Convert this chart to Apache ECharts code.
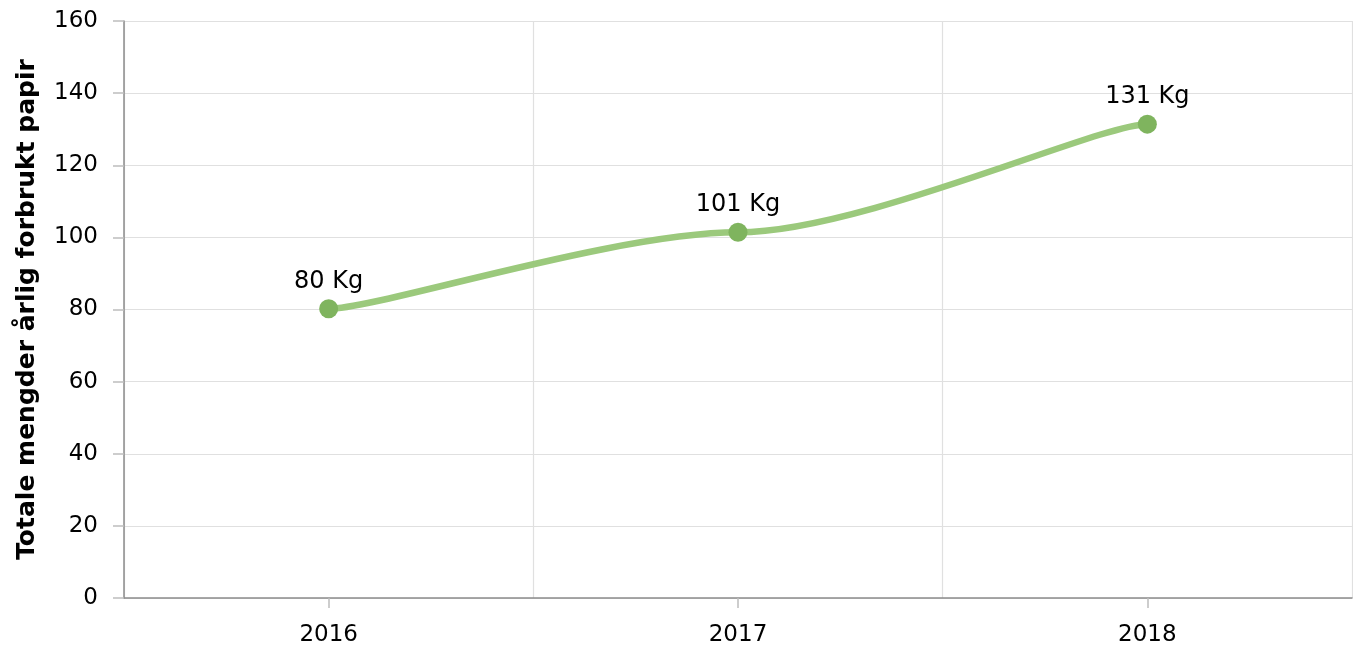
<!DOCTYPE html>
<html>
<head>
<meta charset="utf-8">
<script src="https://cdn.jsdelivr.net/npm/echarts@6/dist/echarts.min.js"></script>
<style>
html,body{margin:0;padding:0;background:#fff;}
#chart{width:1353px;height:655px;}
</style>
</head>
<body>
<div id="chart"></div>
<script>
var categories = ['2016', '2017', '2018'];
var values = [80.2, 101.4, 131.4];
var yTitle = 'Totale mengder årlig forbrukt papir';
var unit = ' Kg';

var chart = echarts.init(document.getElementById('chart'), null, {renderer: 'canvas'});
var font = 'DejaVu Sans, Verdana, sans-serif';

// horizontal bezier handles: longer at interior points, short at ends
var HANDLE_INNER = 0.3, HANDLE_END = 0.12;
var pairs = values.map(function (v, i) { return [i, v]; });

function renderSegment(params, api) {
  var i = params.dataIndex;
  if (i === 0) return null;
  var p0 = api.coord([i - 1, values[i - 1]]);
  var p1 = api.coord([i, values[i]]);
  var dx = p1[0] - p0[0];
  var h0 = (i - 1 === 0 ? HANDLE_END : HANDLE_INNER) * dx;
  var h1 = (i === values.length - 1 ? HANDLE_END : HANDLE_INNER) * dx;
  return {
    type: 'bezierCurve',
    shape: {
      x1: p0[0], y1: p0[1],
      cpx1: p0[0] + h0, cpy1: p0[1],
      cpx2: p1[0] - h1, cpy2: p1[1],
      x2: p1[0], y2: p1[1]
    },
    style: {stroke: '#9bc97c', lineWidth: 6.5, fill: null, lineCap: 'round'}
  };
}

chart.setOption({
  animation: false,
  textStyle: {fontFamily: font},
  grid: {left: 124, right: 1, top: 21, bottom: 57, containLabel: false, outerBoundsMode: 'none'},
  xAxis: {
    type: 'category',
    data: categories,
    boundaryGap: true,
    axisLine: {show: true, lineStyle: {color: '#8c8c8c', width: 1.5}},
    axisTick: {show: true, alignWithLabel: true, length: 10, lineStyle: {color: '#bdbdbd', width: 1.5}},
    axisLabel: {color: '#000', fontSize: 23, fontFamily: font, margin: 26},
    splitLine: {show: true, lineStyle: {color: '#e0e0e0', width: 1.2}}
  },
  yAxis: {
    type: 'value',
    min: 0, max: 160, interval: 20,
    name: yTitle,
    nameLocation: 'middle',
    nameRotate: 90,
    nameGap: 84,
    nameTextStyle: {color: '#000', fontSize: 25, fontWeight: 'bold', fontFamily: font},
    axisLine: {show: true, lineStyle: {color: '#8c8c8c', width: 1.5}},
    axisTick: {show: true, length: 11, lineStyle: {color: '#bdbdbd', width: 1.5}},
    axisLabel: {color: '#000', fontSize: 23, fontFamily: font, margin: 26},
    splitLine: {show: true, lineStyle: {color: '#e0e0e0', width: 1.2}}
  },
  series: [{
    type: 'custom',
    data: pairs,
    encode: {x: 0, y: 1},
    renderItem: renderSegment,
    z: 2
  }, {
    type: 'line',
    data: values,
    symbol: 'circle',
    symbolSize: 19,
    lineStyle: {width: 0, opacity: 0},
    itemStyle: {color: '#7fb45e'},
    z: 3,
    label: {
      show: true, position: 'top', distance: 6,
      color: '#000', fontSize: 24, fontFamily: font,
      formatter: function (p) { return Math.round(p.value) + unit; }
    }
  }]
});
</script>
</body>
</html>
